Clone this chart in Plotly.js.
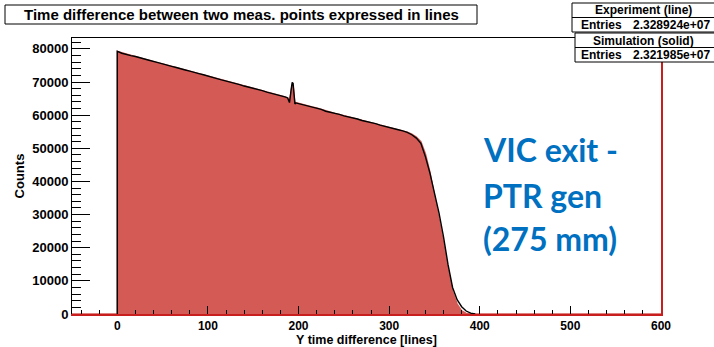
<!DOCTYPE html>
<html>
<head>
<meta charset="utf-8">
<script src="https://cdn.plot.ly/plotly-3.0.1.min.js"></script>
<style>html,body{margin:0;padding:0;background:#fff;}#chart{width:714px;height:347px;}</style>
</head>
<body>
<div id="chart"></div>
<script>
// Experiment (black line) – Y time difference [lines] vs counts
const expX = [0,0,5,10,15,20,25,30,35,40,45,50,55,60,65,70,75,80,85,90,95,100,105,110,115,120,125,130,135,140,145,150,155,160,165,170,175,180,185,188,190,192,193,194,195,196,197,200,205,210,215,220,225,230,235,240,245,250,255,260,265,270,275,280,285,290,295,300,305,310,315,320,325,330,335,340,345,350,355,360,365,370,375,380,385,390,395];
const expY = [0,79300,78700,78450,78000,77700,77250,76950,76600,76150,75850,75500,75050,74750,74400,73950,73650,73300,72850,72550,72200,71750,71450,71050,70650,70350,69900,69600,69250,68800,68500,68100,67700,67400,66950,66650,66250,65850,65550,65200,63800,68000,69900,69600,65000,63400,63700,63500,63250,62800,62500,62100,61750,61200,60950,60500,60250,59800,59550,59100,58850,58400,58150,57700,57450,57000,56700,56300,56050,55600,55250,54800,54100,53100,51500,47500,42500,36800,30500,23300,14900,8000,4300,2200,900,250,0];

// Simulation (solid red fill)
const simX = [-50,0,0,5,10,15,20,25,30,35,40,45,50,55,60,65,70,75,80,85,90,95,100,105,110,115,120,125,130,135,140,145,150,155,160,165,170,175,180,185,188,190,192,193,194,195,196,197,200,205,210,215,220,225,230,235,240,245,250,255,260,265,270,275,280,285,290,295,300,305,310,315,320,325,330,335,340,345,350,355,360,365,370,375,380,385,390,600];
const simY = [0,0,79200,78800,78400,78050,77650,77300,76900,76550,76200,75800,75450,75100,74700,74350,74000,73600,73250,72900,72500,72150,71800,71400,71100,70700,70300,69950,69550,69200,68850,68450,68100,67750,67350,67000,66600,66300,65900,65500,65250,64000,67500,69200,68900,64800,63600,63800,63550,63200,62850,62450,62150,61700,61300,60900,60550,60200,59850,59500,59150,58800,58450,58100,57750,57400,57050,56700,56350,56000,55650,55300,54900,54300,53400,52000,48400,42800,36000,29000,21500,13400,6800,3000,900,150,0,0];

const xTickVals = [0,100,200,300,400,500,600];
const yTickVals = [0,10000,20000,30000,40000,50000,60000,70000,80000];

const titleText = 'Time difference between two meas. points expressed in lines';
const statRows = [
  ['Experiment (line)', '2.328924e+07'],
  ['Simulation (solid)', '2.321985e+07']
];
const noteLines = ['VIC exit -', 'PTR gen', '(275 mm)'];

// layout geometry (pixels)
const W = 714, H = 347, L = 72, R = 53, T = 38, B = 33;
const pw = W - L - R, ph = H - T - B;
const px = v => (v - L) / pw;
const py = v => (H - B - v) / ph;

const RED = 'rgb(212,90,86)';
const FRAME_RED = 'rgb(200,30,30)';
const FAM = '"Liberation Sans", Arial, sans-serif';
const tickFont = {family: FAM, size: 13, color: '#000', weight: 'bold'};
const xTickFont = {family: FAM, size: 12, color: '#000', weight: 'bold'};
const xTitleFont = {family: FAM, size: 12.5, color: '#000', weight: 'bold'};

const traces = [
  {x: simX, y: simY, type: 'scatter', mode: 'lines', fill: 'tozeroy', fillcolor: RED,
   line: {color: RED, width: 1.5}, hoverinfo: 'skip', showlegend: false},
  {x: expX, y: expY, type: 'scatter', mode: 'lines',
   line: {color: '#000', width: 1.4}, hoverinfo: 'skip', showlegend: false}
];

const shapes = [];
const annotations = [];
function box(x0, y0, x1, y1) {
  shapes.push({type: 'rect', xref: 'paper', yref: 'paper', x0: px(x0), x1: px(x1), y0: py(y1), y1: py(y0),
    fillcolor: '#fff', line: {color: '#000', width: 1}, layer: 'above'});
}
function hline(x0, x1, y) {
  shapes.push({type: 'line', xref: 'paper', yref: 'paper', x0: px(x0), x1: px(x1), y0: py(y), y1: py(y),
    line: {color: '#000', width: 1}, layer: 'above'});
}
function text(t, x, y, xanchor, font) {
  annotations.push({text: t, xref: 'paper', yref: 'paper', x: px(x), y: py(y), xanchor: xanchor, yanchor: 'middle',
    showarrow: false, font: font});
}

// title box
box(5, 5, 477, 24);
text(titleText, 241, 14.5, 'center', {family: FAM, size: 15, color: '#000', weight: 'bold'});

// stats boxes
const statFont = {family: FAM, size: 12, color: '#000', weight: 'bold'};
const boxTops = [3, 33];
statRows.forEach((r, i) => {
  const t0 = boxTops[i];
  box(572 + i * 3, t0, 730, t0 + 29);
  hline(572 + i * 3, 730, t0 + 14.5);
  text(r[0], 643, t0 + 7.5, 'center', statFont);
  text('Entries', 579, t0 + 22, 'left', statFont);
  text(r[1], 712, t0 + 22, 'right', statFont);
});

// blue note
const noteFont = {family: 'Lato, "Open Sans", sans-serif', size: 32, color: 'rgb(0,112,192)', weight: 'bold'};
const noteY = [149, 195, 238];
noteLines.forEach((t, i) => text(t, 481, noteY[i], 'left', noteFont));

const layout = {
  width: W, height: H,
  margin: {l: L, r: R, t: T, b: B, pad: 0},
  paper_bgcolor: '#fff', plot_bgcolor: '#fff',
  showlegend: false,
  xaxis: {
    range: [-50, 600], tickvals: xTickVals, ticks: 'inside', ticklen: 8, tickwidth: 1, tickcolor: '#000',
    minor: {dtick: 20, tick0: 0, ticks: 'inside', ticklen: 4, tickcolor: '#000', tickwidth: 1},
    showline: true, linecolor: FRAME_RED, linewidth: 2, mirror: false,
    showgrid: false, zeroline: false, tickfont: xTickFont,
    title: {text: 'Y time difference [lines]', font: xTitleFont, standoff: 5}
  },
  xaxis2: {
    overlaying: 'x', side: 'top', range: [-50, 600], showline: true, linecolor: '#000', linewidth: 1,
    showticklabels: false, ticks: '', showgrid: false, zeroline: false
  },
  yaxis: {
    range: [0, 83300], tickvals: yTickVals, tickformat: 'd', ticks: 'inside', ticklen: 18, tickwidth: 1, tickcolor: '#000',
    minor: {dtick: 2000, tick0: 0, ticks: 'inside', ticklen: 9, tickcolor: '#000', tickwidth: 1},
    showline: true, linecolor: '#000', linewidth: 1,
    showgrid: false, zeroline: false, tickfont: tickFont,
    title: {text: 'Counts', font: tickFont, standoff: 4}
  },
  yaxis2: {
    overlaying: 'y', side: 'right', range: [0, 83300], showline: true, linecolor: FRAME_RED, linewidth: 2,
    showticklabels: false, ticks: '', showgrid: false, zeroline: false
  },
  shapes: shapes,
  annotations: annotations
};

// invisible trace to activate the secondary (frame) axes
traces.push({x: [-50], y: [0], xaxis: 'x2', yaxis: 'y2', type: 'scatter', mode: 'markers',
  marker: {opacity: 0}, hoverinfo: 'skip', showlegend: false});

Plotly.newPlot('chart', traces, layout, {staticPlot: true, displayModeBar: false});
</script>
</body>
</html>
